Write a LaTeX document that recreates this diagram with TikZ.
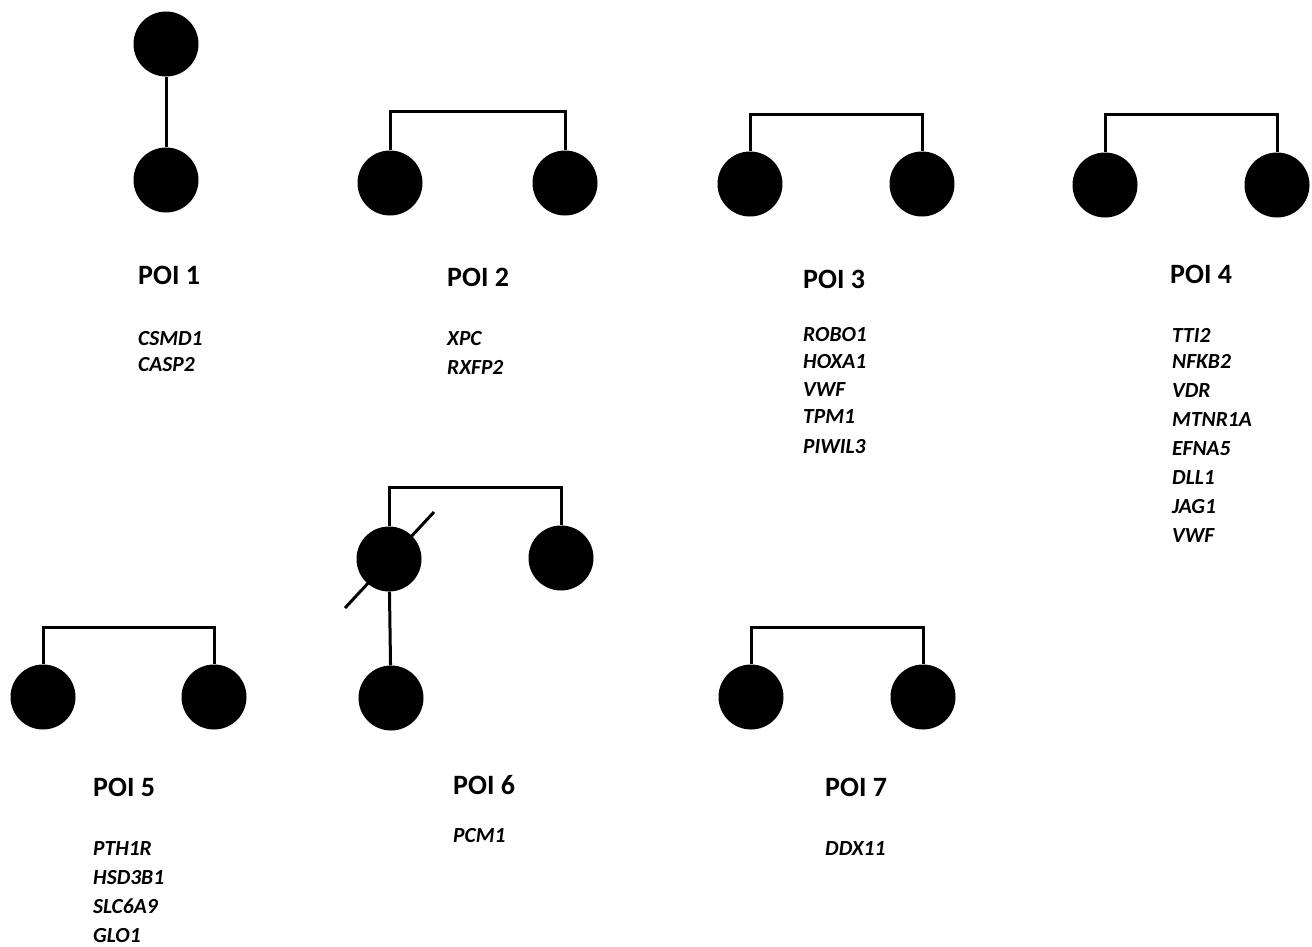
\documentclass[tikz,border=0pt]{standalone}
\usepackage{fontspec}
\setmainfont{Carlito}
\begin{document}
\begin{tikzpicture}[x=1pt,y=-1pt,
  ind/.style={circle,fill=black,draw=none,minimum size=65pt,inner sep=0pt},
  ln/.style={line width=3pt},
  poi/.style={anchor=base west,inner sep=0pt,font=\fontsize{28}{32}\selectfont\bfseries},
  gene/.style={anchor=base west,inner sep=0pt,font=\fontsize{21.5}{26}\selectfont\bfseries\itshape}]
\useasboundingbox (0,0) rectangle (1312,946);

% POI 1
\node[ind] (a1) at (166,44) {};
\node[ind] (b1) at (166,180) {};
\draw[ln] (a1) -- (b1);
\node[poi] (p1) at (138,284) {POI 1};
\node[gene] (g1a) at (138,345) {CSMD1};
\node[gene] (g1b) at (138,371) {CASP2};

% POI 2
\node[ind] (a2) at (390,183) {};
\node[ind] (b2) at (565,183) {};
\draw[ln] (a2.north) -- ++(0,-38.5) -| (b2.north);
\node[poi] (p2) at (447,286) {POI 2};
\node[gene] (g2a) at (447,345) {XPC};
\node[gene] (g2b) at (447,374) {RXFP2};

% POI 3
\node[ind] (a3) at (750,184) {};
\node[ind] (b3) at (922,184) {};
\draw[ln] (a3.north) -- ++(0,-36.5) -| (b3.north);
\node[poi] (p3) at (803,288) {POI 3};
\foreach \g/\y [count=\i] in {ROBO1/341,HOXA1/368,VWF/396,TPM1/423,PIWIL3/453}
  \node[gene] (g3-\i) at (803,\y) {\g};

% POI 4
\node[ind] (a4) at (1105,185) {};
\node[ind] (b4) at (1277,185) {};
\draw[ln] (a4.north) -- ++(0,-37.5) -| (b4.north);
\node[poi] (p4) at (1170,283) {POI 4};
\foreach \g/\y [count=\i] in {TTI2/342,NFKB2/368,VDR/397,MTNR1A/426,EFNA5/455,DLL1/484,JAG1/513,VWF/542}
  \node[gene] (g4-\i) at (1172,\y) {\g};

% POI 5
\node[ind] (a5) at (43,697) {};
\node[ind] (b5) at (214,697) {};
\draw[ln] (a5.north) -- ++(0,-36.5) -| (b5.north);
\node[poi] (p5) at (93,796) {POI 5};
\foreach \g/\y [count=\i] in {PTH1R/855,HSD3B1/884,SLC6A9/913,GLO1/942}
  \node[gene] (g5-\i) at (93,\y) {\g};

% POI 6
\node[ind] (a6) at (389,559) {};
\node[ind] (b6) at (561,558) {};
\node[ind] (c6) at (391,698) {};
\draw[ln] (a6.north) -- ++(0,-38.5) -| (b6.north);
\draw[ln] (a6) -- (c6);
\coordinate (d6s) at (345,608);
\coordinate (d6e) at (434,512);
\draw[ln] (d6s) -- (d6e);
\node[poi] (p6) at (453,794) {POI 6};
\node[gene] (g6a) at (453,842) {PCM1};

% POI 7
\node[ind] (a7) at (751,697) {};
\node[ind] (b7) at (923,697) {};
\draw[ln] (a7.north) -- ++(0,-36.5) -| (b7.north);
\node[poi] (p7) at (825,796) {POI 7};
\node[gene] (g7a) at (825,855) {DDX11};
\end{tikzpicture}
\end{document}
